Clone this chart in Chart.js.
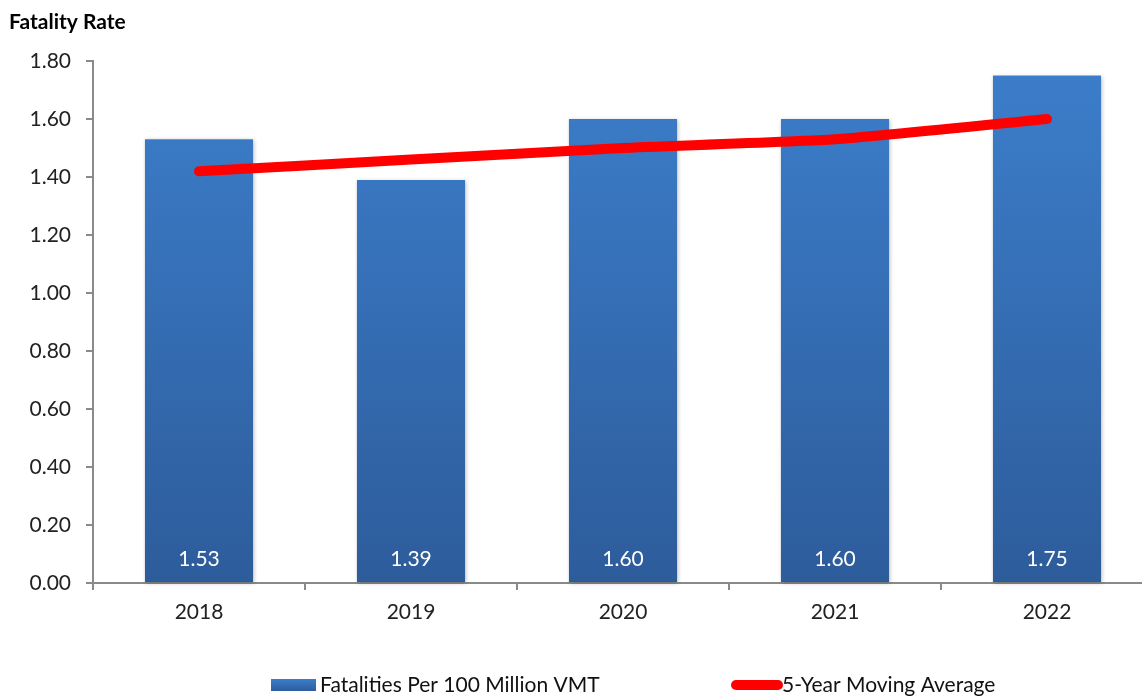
<!DOCTYPE html>
<html>
<head>
<meta charset="utf-8">
<script src="https://cdn.jsdelivr.net/npm/chart.js@4.4.1/dist/chart.umd.min.js"></script>
<style>
  html, body { margin: 0; padding: 0; background: #fff; overflow: hidden; }
  #wrap { width: 1142px; height: 698px; overflow: hidden; position: relative; }
  #box { width: 1153px; height: 698px; position: absolute; left: 0; top: 0; }
</style>
</head>
<body>
<div id="wrap"><div id="box"><canvas id="chart"></canvas></div></div>
<script>
// Yearly fatality rates and their five-year moving average
const years = ['2018', '2019', '2020', '2021', '2022'];
const fatalityRate = [1.53, 1.39, 1.60, 1.60, 1.75];
const movingAverage = [1.42, 1.46, 1.50, 1.53, 1.60];
const yTicks = [0, 0.2, 0.4, 0.6, 0.8, 1.0, 1.2, 1.4, 1.6, 1.8];
const titleText = 'Fatality Rate';
const seriesNames = ['Fatalities Per 100 Million VMT', '5-Year Moving Average'];

const FONT = 'Lato, "Open Sans", "Liberation Sans", sans-serif';
const AXIS_GREY = '#8a8a8a';

function barGradient(ctx) {
  const area = ctx.chart.chartArea;
  if (!area) return '#3a7bc6';
  const g = ctx.chart.ctx.createLinearGradient(0, area.top, 0, area.bottom);
  g.addColorStop(0, '#3c7ecb');
  g.addColorStop(1, '#2d5c9b');
  return g;
}

// Title, value labels inside the bars and the bottom legend
const decorations = {
  id: 'decorations',
  beforeDatasetsDraw(chart) {
    const c = chart.ctx;
    c.save();
    c.shadowColor = 'rgba(0,0,0,0.25)';
    c.shadowBlur = 4;
    c.shadowOffsetX = 1;
    c.shadowOffsetY = 1;
    chart.getDatasetMeta(1).data.forEach(bar => {
      const w = bar.width;
      c.fillStyle = '#fff';
      c.fillRect(bar.x - w / 2, bar.y, w, bar.base - bar.y);
    });
    c.restore();
  },
  afterDatasetsDraw(chart) {
    const c = chart.ctx;
    const meta = chart.getDatasetMeta(1);
    c.save();
    c.fillStyle = '#ffffff';
    c.font = '21px ' + FONT;
    c.textAlign = 'center';
    c.textBaseline = 'middle';
    meta.data.forEach((bar, i) => {
      c.fillText(fatalityRate[i].toFixed(2), bar.x, chart.chartArea.bottom - 24);
    });
    c.restore();
  },
  afterDraw(chart) {
    const c = chart.ctx;
    c.save();
    // title
    c.fillStyle = '#000';
    c.font = 'bold 21px ' + FONT;
    c.textAlign = 'left';
    c.textBaseline = 'middle';
    c.fillText(titleText, 9, 22);

    // legend
    const ly = 685;
    c.font = '21px ' + FONT;
    const lg = c.createLinearGradient(0, ly - 6, 0, ly + 6);
    lg.addColorStop(0, '#3c7ecb');
    lg.addColorStop(1, '#2d5c9b');
    c.fillStyle = lg;
    c.fillRect(271, ly - 6, 45, 12);
    c.fillStyle = '#111';
    c.fillText(seriesNames[0], 320, ly);

    c.strokeStyle = '#ff0000';
    c.lineWidth = 10;
    c.lineCap = 'round';
    c.beginPath();
    c.moveTo(736, ly);
    c.lineTo(778, ly);
    c.stroke();
    c.fillStyle = '#111';
    c.fillText(seriesNames[1], 782, ly);
    c.restore();
  }
};

new Chart(document.getElementById('chart'), {
  data: {
    labels: years,
    datasets: [
      {
        type: 'line',
        label: seriesNames[1],
        data: movingAverage,
        borderColor: '#ff0000',
        borderWidth: 10,
        borderCapStyle: 'round',
        borderJoinStyle: 'round',
        pointRadius: 0,
        tension: 0.15,
        order: 0
      },
      {
        type: 'bar',
        label: seriesNames[0],
        data: fatalityRate,
        backgroundColor: barGradient,
        barPercentage: 0.51,
        categoryPercentage: 1.0,
        order: 1
      }
    ]
  },
  options: {
    responsive: true,
    maintainAspectRatio: false,
    animation: false,
    layout: { padding: { top: 61, left: 0, right: 0, bottom: 0 } },
    plugins: {
      legend: { display: false },
      tooltip: { enabled: false }
    },
    scales: {
      x: {
        type: 'category',
        offset: true,
        afterFit: s => { s.height = 115; },
        border: { display: true, color: AXIS_GREY, width: 2 },
        grid: {
          offset: true,
          drawOnChartArea: false,
          drawTicks: true,
          tickLength: 7,
          color: AXIS_GREY,
          lineWidth: 2
        },
        ticks: {
          color: '#222',
          font: { family: FONT, size: 21 },
          padding: 10
        }
      },
      y: {
        type: 'linear',
        min: 0,
        max: 1.8,
        afterFit: s => { s.width = 93; },
        afterBuildTicks: s => { s.ticks = yTicks.map(v => ({ value: v })); },
        border: { display: true, color: AXIS_GREY, width: 2 },
        grid: {
          drawOnChartArea: false,
          drawTicks: true,
          tickLength: 7,
          color: AXIS_GREY,
          lineWidth: 2
        },
        ticks: {
          color: '#222',
          font: { family: FONT, size: 21 },
          padding: 15,
          callback: v => Number(v).toFixed(2)
        }
      }
    }
  },
  plugins: [decorations]
});
</script>
</body>
</html>
